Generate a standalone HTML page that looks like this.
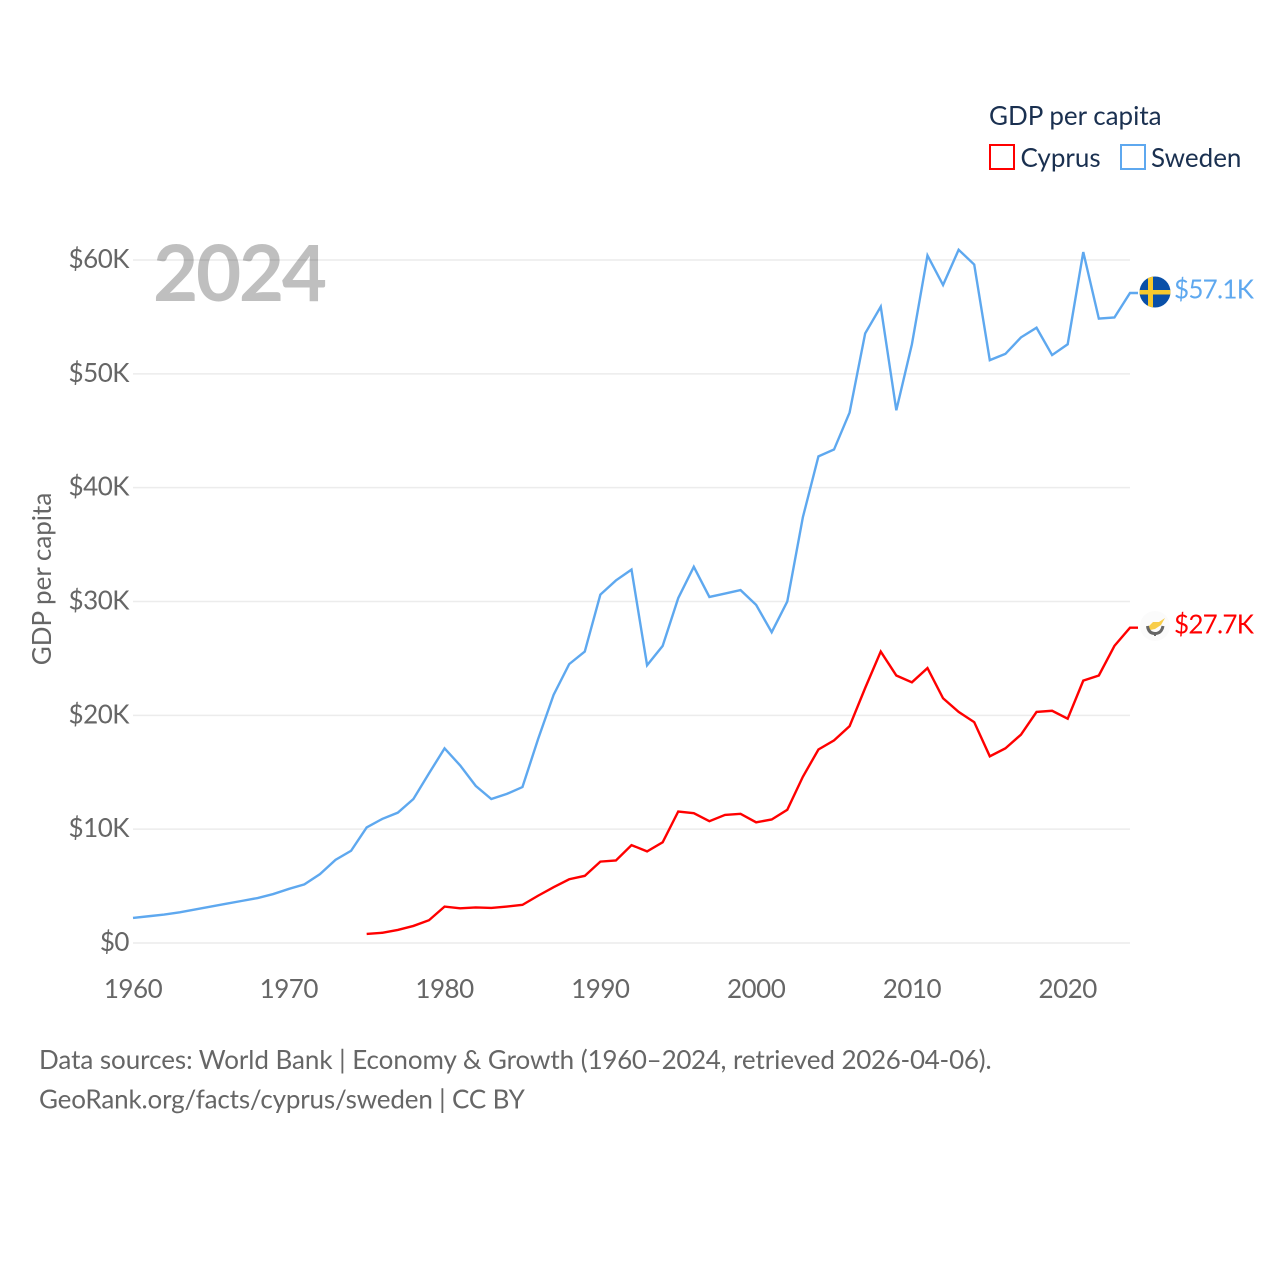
<!DOCTYPE html>
<html><head><meta charset="utf-8"><title>GDP per capita: Cyprus and Sweden</title>
<style>
html,body{margin:0;padding:0;background:#fff;width:1280px;height:1280px;overflow:hidden}
svg{display:block;font-family:"Lato","Carlito","Liberation Sans",sans-serif}
.d{letter-spacing:-0.35px}
</style></head><body>
<svg id="chart" width="1280" height="1280" viewBox="0 0 1280 1280" xmlns="http://www.w3.org/2000/svg">
<g id="grid"></g>
<g id="yticks"></g>
<g id="xticks"></g>
<text transform="translate(51,579) rotate(-90)" text-anchor="middle" font-size="26" fill="#666">GDP per capita</text>
<text x="153" y="301" font-size="78" font-weight="700" fill="#000" fill-opacity="0.25" letter-spacing="-2.3">2024</text>
<g id="series"></g>
<g>
<text x="989" y="125" font-size="26" fill="#1a3050">GDP per capita</text>
<rect x="990" y="145" width="24" height="24" fill="#fff" stroke="#ff0000" stroke-width="2"/>
<text x="1020.5" y="167" font-size="26" fill="#1a3050">Cyprus</text>
<rect x="1121" y="145" width="24" height="24" fill="#fff" stroke="#5ea8ef" stroke-width="2"/>
<text x="1151" y="167" font-size="26" fill="#1a3050">Sweden</text>
</g>
<g>
<clipPath id="flagClipSe"><circle cx="1155" cy="292" r="15.5"/></clipPath>
<g clip-path="url(#flagClipSe)">
<rect x="1139" y="276" width="32" height="32" fill="#0a50a8"/>
<rect x="1148" y="276" width="5" height="32" fill="#f7c92e"/>
<rect x="1139" y="290" width="32" height="4.5" fill="#f7c92e"/>
</g></g>
<g>
<circle cx="1155" cy="626" r="15" fill="#fbfbfb"/>
<path d="M1148 627 L1153 622 L1159 622 L1165 618 L1161 625 L1155 629 L1150 630 Z" fill="#f8cd4a"/>
<path d="M1147.5 626 Q1148.5 633.5 1155 633.5 Q1161.5 633.5 1163 626" fill="none" stroke="#666" stroke-width="3"/>
<path d="M1155 632 V636" stroke="#666" stroke-width="2"/>
</g>
<text id="labelSe" x="1174" y="298.5" font-size="26" letter-spacing="-0.75" fill="#5ea8ef"></text>
<text id="labelCy" x="1174" y="633.5" font-size="26" letter-spacing="-0.75" fill="#ff0000"></text>
<g>
<text x="39" y="1069" font-size="26" letter-spacing="-0.05" fill="#666">Data sources: World Bank | Economy &amp; Growth (<tspan class="d">1960</tspan>–<tspan class="d">2024</tspan>, retrieved <tspan class="d">2026</tspan>-<tspan class="d">04</tspan>-<tspan class="d">06</tspan>).</text>
<text x="39" y="1108.5" font-size="26" letter-spacing="-0.16" fill="#666">GeoRank.org/facts/cyprus/sweden | CC BY</text>
</g>
</svg>
<script>
const swedenYears = [1960,1961,1962,1963,1964,1965,1966,1967,1968,1969,1970,1971,1972,1973,1974,1975,1976,1977,1978,1979,1980,1981,1982,1983,1984,1985,1986,1987,1988,1989,1990,1991,1992,1993,1994,1995,1996,1997,1998,1999,2000,2001,2002,2003,2004,2005,2006,2007,2008,2009,2010,2011,2012,2013,2014,2015,2016,2017,2018,2019,2020,2021,2022,2023,2024];
const swedenValues = [2.2,2.35,2.5,2.7,2.95,3.2,3.45,3.7,3.95,4.3,4.75,5.15,6.05,7.3,8.1,10.15,10.9,11.45,12.65,14.9,17.1,15.6,13.8,12.65,13.1,13.7,17.9,21.8,24.5,25.6,30.6,31.85,32.8,24.4,26.1,30.3,33.05,30.4,30.7,31.0,29.7,27.3,30.0,37.4,42.75,43.35,46.6,53.55,55.9,46.8,52.6,60.4,57.8,60.9,59.6,51.2,51.75,53.2,54.05,51.65,52.6,60.7,54.85,54.95,57.1];
const cyprusYears = [1975,1976,1977,1978,1979,1980,1981,1982,1983,1984,1985,1986,1987,1988,1989,1990,1991,1992,1993,1994,1995,1996,1997,1998,1999,2000,2001,2002,2003,2004,2005,2006,2007,2008,2009,2010,2011,2012,2013,2014,2015,2016,2017,2018,2019,2020,2021,2022,2023,2024];
const cyprusValues = [0.8,0.9,1.15,1.5,2.0,3.2,3.05,3.12,3.08,3.2,3.35,4.15,4.9,5.6,5.9,7.15,7.25,8.6,8.05,8.85,11.55,11.4,10.7,11.25,11.35,10.6,10.85,11.7,14.6,17.0,17.8,19.05,22.4,25.6,23.5,22.9,24.15,21.5,20.3,19.4,16.4,17.1,18.3,20.3,20.4,19.7,23.05,23.5,26.1,27.7];
const yTickValues = [0,10,20,30,40,50,60];
const yTickLabels = ["$0","$10K","$20K","$30K","$40K","$50K","$60K"];
const xTickValues = [1960,1970,1980,1990,2000,2010,2020];
const endLabels = ["$57.1K","$27.7K"];

const NS = "http://www.w3.org/2000/svg";
function xScale(year){ return 133 + (year - 1960) * (1130 - 133) / 64; }
function yScale(v){ return 943 - v * (943 - 260) / 60; }

const grid = document.getElementById("grid");
const yticks = document.getElementById("yticks");
const xticks = document.getElementById("xticks");
const series = document.getElementById("series");

yTickValues.forEach(function(v, i){
  const line = document.createElementNS(NS, "line");
  
  
  line.setAttribute("x1", 133);
  line.setAttribute("x2", 1130);
  line.setAttribute("y1", yScale(v));
  line.setAttribute("y2", yScale(v));
  line.setAttribute("stroke", "#ececec");
  line.setAttribute("stroke-width", "1.5");
  grid.appendChild(line);
  const t = document.createElementNS(NS, "text");
  
  
  t.setAttribute("x", 129);
  t.setAttribute("y", yScale(v) + 8);
  t.setAttribute("text-anchor", "end");
  t.setAttribute("font-size", "26");
  t.setAttribute("letter-spacing", "-0.5");
  t.setAttribute("fill", "#666");
  t.textContent = yTickLabels[i];
  yticks.appendChild(t);
});

xTickValues.forEach(function(y){
  const t = document.createElementNS(NS, "text");
  
  
  t.setAttribute("x", xScale(y));
  t.setAttribute("y", 998);
  t.setAttribute("text-anchor", "middle");
  t.setAttribute("font-size", "26");
  t.setAttribute("letter-spacing", "-0.5");
  t.setAttribute("fill", "#666");
  t.textContent = y;
  xticks.appendChild(t);
});

function pathFor(years, values){
  let d = years.map(function(y, i){
    return (i ? "L" : "M") + xScale(y).toFixed(2) + " " + yScale(values[i]).toFixed(2);
  }).join(" ");
  d += " H" + (xScale(years[years.length - 1]) + 8).toFixed(2);
  return d;
}

const swedenLine = document.createElementNS(NS, "path");


swedenLine.setAttribute("d", pathFor(swedenYears, swedenValues));
swedenLine.setAttribute("fill", "none");
swedenLine.setAttribute("stroke", "#5ea8ef");
swedenLine.setAttribute("stroke-width", "2.4");
series.appendChild(swedenLine);

const cyprusLine = document.createElementNS(NS, "path");


cyprusLine.setAttribute("d", pathFor(cyprusYears, cyprusValues));
cyprusLine.setAttribute("fill", "none");
cyprusLine.setAttribute("stroke", "#ff0000");
cyprusLine.setAttribute("stroke-width", "2.4");
series.appendChild(cyprusLine);

document.getElementById("labelSe").textContent = endLabels[0];
document.getElementById("labelCy").textContent = endLabels[1];
</script>
</body></html>
